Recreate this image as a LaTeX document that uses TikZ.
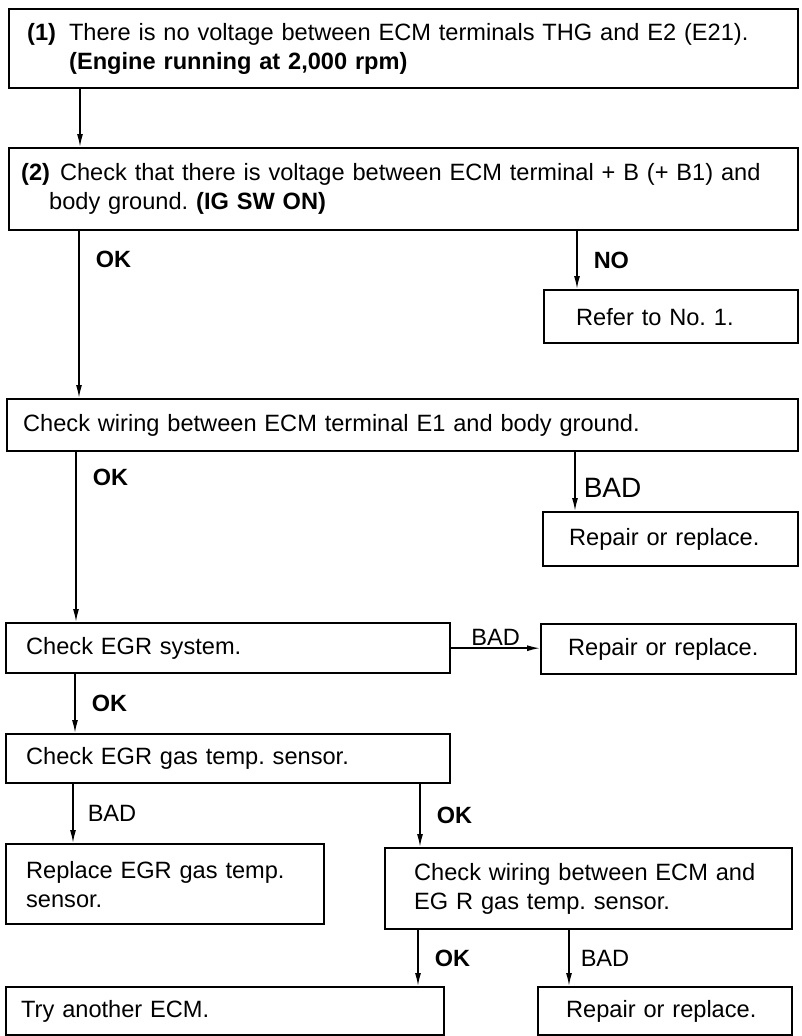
\documentclass[tikz,border=0pt]{standalone}
\usepackage{fontspec}
\setmainfont{Liberation Sans}
\usetikzlibrary{arrows.meta}
\frenchspacing

\begin{document}
\begin{tikzpicture}[x=1pt, y=-1pt,
    caja/.style={draw, line width=2.4pt, anchor=north west, align=left,
                 inner ysep=0pt, font=\fontsize{23.6}{29}\selectfont},
    flecha/.style={line width=1.5pt, -{Latex[length=13pt,width=6pt]}},
    etq/.style={anchor=west, inner sep=0pt, xshift=16pt,
                font=\fontsize{23.5}{24}\selectfont\bfseries},
    mala/.style={anchor=west, inner sep=0pt, xshift=11pt,
                 font=\fontsize{23.6}{24}\selectfont}]
    % Fondo
    \fill[white] (0,0) rectangle (801,1036);
    \useasboundingbox (0,0) rectangle (801,1036);

    % Cajas
    \node[caja, text width=753pt, inner xsep=18pt, minimum height=79pt] (b1) at (8,8)
        {\textbf{(1)}\hspace{13pt}There is no voltage between ECM terminals THG and E2 (E21).\\
         \hspace*{42pt}\textbf{(Engine running at 2,000 rpm)}};
    \node[caja, text width=765pt, inner xsep=12pt, minimum height=82pt] (b2) at (8,147)
        {\textbf{(2)}\hspace{10pt}Check that there is voltage between ECM terminal + B (+ B1) and\\
         \hspace*{28pt}body ground. \textbf{(IG SW ON)}};
    \node[caja, text width=190pt, inner xsep=32pt, minimum height=53pt] (ref) at (543,289)
        {Refer to No. 1.};
    \node[caja, text width=759pt, inner xsep=16pt, minimum height=52pt] (e1) at (6,398)
        {Check wiring between ECM terminal E1 and body ground.};
    \node[caja, text width=203pt, inner xsep=26pt, minimum height=54pt] (rep1) at (542,511)
        {Repair or replace.};
    \node[caja, text width=404pt, inner xsep=20pt, minimum height=50pt] (egr) at (5,622)
        {Check EGR system.};
    \node[caja, text width=201pt, inner xsep=27pt, minimum height=50pt] (rep2) at (540,623)
        {Repair or replace.};
    \node[caja, text width=404pt, inner xsep=20pt, minimum height=49pt] (gas) at (5,733)
        {Check EGR gas temp. sensor.};
    \node[caja, text width=278pt, inner xsep=20pt, minimum height=80pt] (repl) at (5,843)
        {Replace EGR gas temp.\\sensor.};
    \node[caja, text width=349pt, inner xsep=29pt, minimum height=81pt] (wir) at (384,847)
        {Check wiring between ECM and\\EG R gas temp. sensor.};
    \node[caja, text width=408pt, inner xsep=15pt, minimum height=48pt] (try) at (5,986)
        {Try another ECM.};
    \node[caja, text width=198pt, inner xsep=28pt, minimum height=48pt] (rep3) at (537,986)
        {Repair or replace.};

    % Columnas de las flechas
    \foreach \n/\x in {a/80, b/79, c/577, d/76, e/575, f/75, g/73, h/420, i/418, j/569}
        \coordinate (x\n) at (\x,0);

    % Flechas
    \draw[flecha] (b1.south -| xa) -- (b2.north -| xa);
    \draw[flecha] (b2.south -| xb) -- node[etq, pos=0.17] {OK} (e1.north -| xb);
    \draw[flecha] (b2.south -| xc) -- node[etq, pos=0.5] {NO} (ref.north -| xc);
    \draw[flecha] (e1.south -| xd) -- node[etq, pos=0.145] {OK} (egr.north -| xd);
    \draw[flecha] (e1.south -| xe) -- node[mala, pos=0.6, xshift=-3pt,
        font=\fontsize{28}{28}\selectfont] {BAD} (rep1.north -| xe);
    \draw[flecha] (egr.east) -- node[above, inner sep=2pt,
        font=\fontsize{23.6}{24}\selectfont] {BAD} (egr.east -| rep2.west);
    \draw[flecha] (egr.south -| xf) -- node[etq, pos=0.5] {OK} (gas.north -| xf);
    \draw[flecha] (gas.south -| xg) -- node[mala, pos=0.5, xshift=3pt] {BAD} (repl.north -| xg);
    \draw[flecha] (gas.south -| xh) -- node[etq, pos=0.5] {OK} (wir.north -| xh);
    \draw[flecha] (wir.south -| xi) -- node[etq, pos=0.5] {OK} (try.north -| xi);
    \draw[flecha] (wir.south -| xj) -- node[mala, pos=0.5] {BAD} (rep3.north -| xj);
\end{tikzpicture}
\end{document}
